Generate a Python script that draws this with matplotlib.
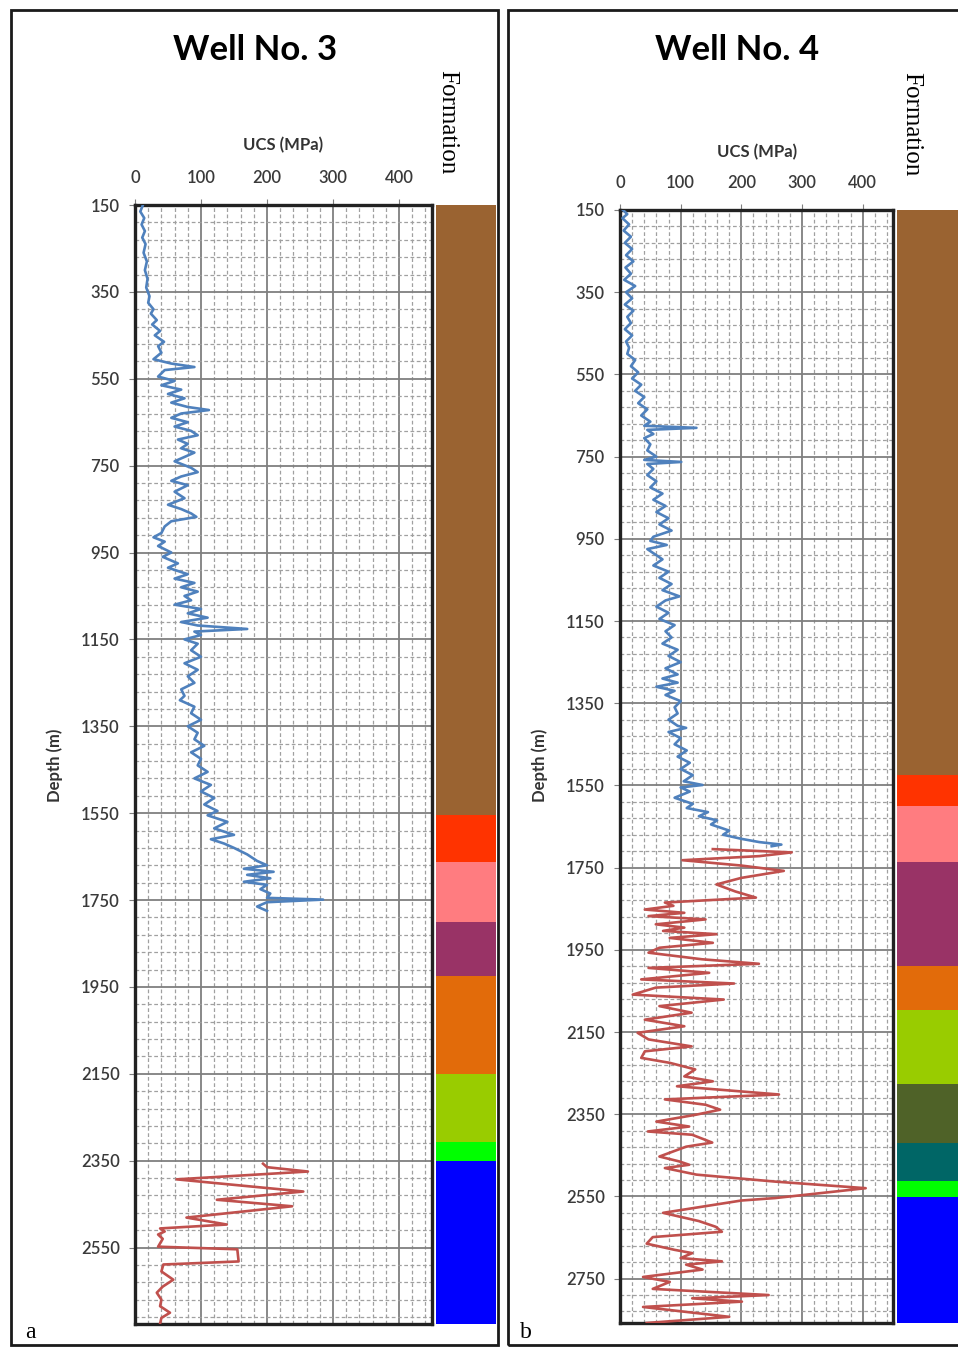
import matplotlib

matplotlib.use("Agg")
import matplotlib.pyplot as plt
from matplotlib.patches import Rectangle
from matplotlib.ticker import MultipleLocator, FixedLocator

W, H = 958, 1347

# --- Well No. 3: UCS log (depth m, UCS MPa) ---
w3_upper_depth = [150, 165, 180, 195, 210, 225, 240, 260, 280, 300, 320, 340, 360, 375, 390, 400,
                  415, 425, 440, 450, 465, 475, 490, 505, 515, 523, 530, 545, 555, 565, 575, 585,
                  595, 605, 615, 622, 630, 640, 650, 660, 670, 680, 690, 700, 710, 720, 730, 740,
                  755, 765, 775, 785, 795, 810, 825, 840, 850, 860, 868, 878, 890, 905, 915, 925,
                  935, 950, 960, 975, 985, 1000, 1010, 1020, 1030, 1040, 1050, 1060, 1070, 1080,
                  1090, 1100, 1110, 1118, 1126, 1132, 1140, 1150, 1160, 1175, 1190, 1205, 1220,
                  1235, 1250, 1265, 1280, 1290, 1305, 1320, 1335, 1350, 1365, 1380, 1395, 1410,
                  1425, 1440, 1455, 1470, 1485, 1500, 1515, 1530, 1545, 1555, 1570, 1585, 1600,
                  1610, 1620, 1630, 1645, 1660, 1670, 1678, 1685, 1692, 1700, 1708, 1715, 1725,
                  1735, 1745, 1749, 1755, 1765, 1775]
w3_upper_ucs = [12, 8, 14, 10, 15, 11, 16, 13, 18, 15, 19, 17, 22, 20, 28, 24,
                33, 26, 38, 30, 44, 35, 40, 28, 55, 90, 45, 35, 60, 40, 70, 50,
                75, 55, 80, 112, 70, 55, 80, 60, 85, 95, 65, 80, 70, 90, 75, 60,
                85, 95, 70, 55, 80, 60, 75, 50, 70, 85, 93, 55, 45, 40, 28, 45,
                35, 55, 42, 65, 50, 80, 60, 90, 70, 95, 75, 85, 60, 100,
                80, 110, 70, 95, 170, 90, 100, 75, 95, 85, 100, 75, 95,
                80, 90, 70, 75, 68, 90, 85, 100, 80, 95, 90, 105, 85,
                100, 95, 110, 90, 115, 100, 120, 105, 125, 110, 140, 120, 150,
                115, 135, 150, 170, 185, 200, 165, 210, 170, 205, 165, 200, 190,
                205, 200, 285, 200, 185, 200]
w3_lower_depth = [2357, 2365, 2375, 2393, 2421, 2440, 2455, 2481, 2497, 2506, 2513, 2520, 2530,
                  2548, 2554, 2582, 2589, 2605, 2624, 2640, 2654, 2670, 2685, 2700, 2712, 2725]
w3_lower_ucs = [194, 200, 262, 63, 255, 124, 238, 78, 139, 38, 45, 35, 42,
                35, 155, 157, 43, 40, 58, 42, 33, 40, 38, 53, 40, 38]
w3_form_tops = [150, 1555, 1662, 1800, 1924, 2150, 2308, 2350]
w3_form_bases = [1555, 1662, 1800, 1924, 2150, 2308, 2350, 2726]

# --- Well No. 4 ---
w4_upper_depth = [150, 160, 170, 185, 200, 215, 230, 245, 260, 275, 290, 305, 320, 335, 350, 365,
                  380, 395, 410, 425, 440, 455, 470, 485, 500, 515, 530, 545, 560, 575, 590, 605,
                  620, 635, 650, 665, 675, 680, 685, 695, 705, 720, 735, 750, 758, 763, 768, 780,
                  795, 810, 825, 840, 855, 870, 885, 900, 915, 930, 945, 955, 965, 975, 990, 1000,
                  1015, 1030, 1045, 1060, 1075, 1090, 1100, 1115, 1130, 1145, 1160, 1175, 1190,
                  1205, 1220, 1235, 1250, 1265, 1280, 1290, 1300, 1310, 1320, 1330, 1345, 1360,
                  1375, 1390, 1405, 1410, 1420, 1435, 1450, 1465, 1480, 1495, 1510, 1525, 1540,
                  1549, 1555, 1565, 1580, 1595, 1605, 1615, 1625, 1635, 1645, 1660, 1670, 1680,
                  1688, 1694, 1698]
w4_upper_ucs = [5, 12, 4, 15, 6, 18, 8, 20, 10, 22, 9, 18, 7, 25, 10, 20,
                8, 22, 12, 18, 8, 20, 10, 15, 12, 25, 18, 30, 20, 35, 25, 40,
                30, 45, 35, 50, 40, 126, 45, 55, 40, 50, 45, 60, 40, 101, 45, 55,
                45, 60, 50, 70, 55, 75, 60, 80, 65, 85, 55, 50, 77, 45, 60, 70,
                55, 80, 65, 85, 70, 98, 75, 60, 80, 65, 90, 75, 85,
                70, 95, 80, 100, 75, 95, 70, 95, 60, 90, 75, 100, 90,
                95, 80, 95, 109, 80, 100, 90, 110, 95, 115, 100, 120, 105,
                136, 100, 115, 90, 120, 110, 145, 130, 160, 150, 180, 170, 200,
                230, 266, 250]
w4_lower_depth = [1705, 1713, 1722, 1732, 1745, 1758, 1775, 1791, 1808, 1823, 1835, 1843, 1852,
                  1860, 1868, 1876, 1888, 1896, 1904, 1912, 1921, 1933, 1945, 1957, 1973, 1984,
                  1994, 2006, 2022, 2032, 2042, 2059, 2071, 2087, 2103, 2120, 2136, 2152, 2168,
                  2185, 2197, 2213, 2225, 2241, 2258, 2270, 2282, 2302, 2314, 2327, 2339, 2351,
                  2368, 2380, 2392, 2400, 2419, 2429, 2453, 2465, 2473, 2481, 2497, 2514, 2530,
                  2554, 2560, 2590, 2610, 2624, 2636, 2649, 2665, 2680, 2688, 2700, 2708, 2716,
                  2728, 2746, 2758, 2775, 2790, 2798, 2806, 2819, 2843, 2858]
w4_lower_ucs = [153, 283, 230, 103, 200, 270, 200, 159, 190, 224, 74, 88, 41,
                106, 47, 141, 59, 106, 71, 159, 82, 153, 65, 47, 135, 229,
                47, 147, 35, 188, 59, 21, 171, 65, 118, 41, 106, 29, 47,
                118, 41, 35, 82, 124, 106, 153, 94, 262, 74, 141, 165, 126,
                60, 114, 46, 119, 152, 109, 65, 98, 114, 74, 126, 256, 405,
                256, 200, 71, 130, 158, 168, 54, 44, 90, 119, 100, 168, 109,
                136, 38, 82, 54, 245, 119, 201, 38, 180, 44]
w4_form_tops = [150, 1525, 1600, 1736, 1989, 2096, 2277, 2420, 2512, 2551]
w4_form_bases = [1525, 1600, 1736, 1989, 2096, 2277, 2420, 2512, 2551, 2862]

depth_ticks3 = [150, 350, 550, 750, 950, 1150, 1350, 1550, 1750, 1950, 2150, 2350, 2550]
depth_ticks4 = depth_ticks3 + [2750]
ucs_ticks = [0, 100, 200, 300, 400]

FORM_COLORS3 = ["#9a6331", "#ff3300", "#ff7c80", "#993366", "#e26b0a", "#99cc00", "#00ff00", "#0000ff"]
FORM_COLORS4 = ["#9a6331", "#ff3300", "#ff7c80", "#993366", "#e26b0a", "#99cc00", "#4f6228",
                "#006666", "#00ff00", "#0000ff"]

SANS = ["Lato", "DejaVu Sans"]
SERIF = ["Liberation Serif", "DejaVu Serif"]


def px_rect(x0, y0, x1, y1):
    """pixel box (top-left origin) -> figure fraction [l, b, w, h]"""
    return [x0 / W, 1 - y1 / H, (x1 - x0) / W, (y1 - y0) / H]


def draw_well(fig, box, fbox, ylim, dticks, upper, lower, tops, bases, colors):
    ax = fig.add_axes(px_rect(*box))
    ax.plot(upper[1], upper[0], color="#4f81bd", lw=1.9, zorder=3)
    ax.plot(lower[1], lower[0], color="#c0504d", lw=1.9, zorder=3)
    ax.set_xlim(0, 450)
    ax.set_ylim(ylim[1], ylim[0])
    ax.xaxis.tick_top()
    ax.xaxis.set_major_locator(FixedLocator(ucs_ticks))
    ax.xaxis.set_minor_locator(MultipleLocator(20))
    ax.yaxis.set_major_locator(FixedLocator(dticks))
    ax.yaxis.set_minor_locator(MultipleLocator(40, offset=150))
    ax.grid(which="major", color="#7f7f7f", lw=1.3)
    ax.grid(which="minor", color="#a0a0a0", lw=0.9, ls=(0, (3, 2)))
    ax.set_axisbelow(True)
    ax.tick_params(which="major", direction="out", length=4, color="#7f7f7f",
                   labelsize=12, labelcolor="#3a3a3a")
    ax.tick_params(axis="x", pad=10)
    ax.tick_params(axis="y", pad=7)
    ax.tick_params(which="minor", length=0)
    for lab in ax.get_xticklabels() + ax.get_yticklabels():
        lab.set_family(SANS)
        lab.set_fontweight("semibold")
    for s in ax.spines.values():
        s.set_linewidth(2.4)
        s.set_color("#222222")

    axf = fig.add_axes(px_rect(*fbox))
    for top, base, c in zip(tops, bases, colors):
        axf.bar(0.5, base - top, bottom=top, width=1.0, color=c, lw=0)
    axf.set_xlim(0, 1)
    axf.set_ylim(ylim[1], ylim[0])
    axf.axis("off")
    return ax


def main():
    fig = plt.figure(figsize=(W / 100, H / 100), dpi=100)

    # panel frames
    for x0, x1 in [(11, 498), (508, 962)]:
        fig.add_artist(Rectangle((x0 / W, 1 - 1345 / H), (x1 - x0) / W, (1345 - 10) / H,
                                 transform=fig.transFigure, fill=False, lw=2.0, ec="#1a1a1a"))

    draw_well(fig, (135, 205, 432, 1324), (436, 205, 496, 1324), (150, 2726), depth_ticks3,
              (w3_upper_depth, w3_upper_ucs), (w3_lower_depth, w3_lower_ucs),
              w3_form_tops, w3_form_bases, FORM_COLORS3)
    draw_well(fig, (620, 210, 893, 1323), (897, 210, 962, 1323), (150, 2858), depth_ticks4,
              (w4_upper_depth, w4_upper_ucs), (w4_lower_depth, w4_lower_ucs),
              w4_form_tops, w4_form_bases, FORM_COLORS4)

    def ftext(x, y, s, **kw):
        fig.text(x / W, 1 - y / H, s, ha="center", va="center", **kw)

    ftext(255, 50, "Well No. 3", fontsize=25, fontweight="bold", family=SANS)
    ftext(737, 50, "Well No. 4", fontsize=25, fontweight="bold", family=SANS)
    ftext(283, 145, "UCS (MPa)", fontsize=12, fontweight="bold", family=SANS, color="#333333")
    ftext(757, 152, "UCS (MPa)", fontsize=12, fontweight="bold", family=SANS, color="#333333")
    ftext(447, 122, "Formation", fontsize=18, rotation=-90, family=SERIF)
    ftext(911, 124, "Formation", fontsize=18, rotation=-90, family=SERIF)
    ftext(55, 765, "Depth (m)", fontsize=12, fontweight="bold", rotation=90, family=SANS,
          color="#333333")
    ftext(540, 765, "Depth (m)", fontsize=12, fontweight="bold", rotation=90, family=SANS,
          color="#333333")
    ftext(30, 1332, "a", fontsize=17, family=SERIF)
    ftext(526, 1332, "b", fontsize=17, family=SERIF)

    fig.savefig("out.png", dpi=100)


if __name__ == "__main__":
    main()
